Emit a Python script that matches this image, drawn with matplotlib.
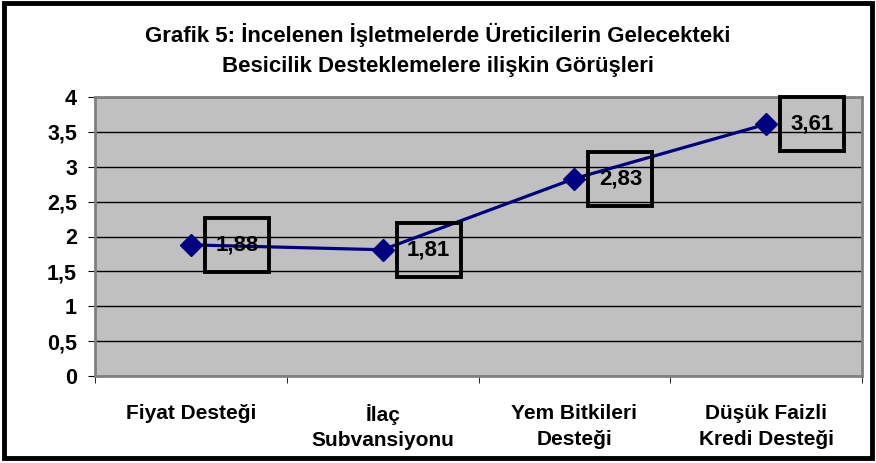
import matplotlib.pyplot as plt
import matplotlib.patches as patches
import numpy as np

categories = ["Fiyat Desteği", "İlaç\nSubvansiyonu", "Yem Bitkileri\nDesteği", "Düşük Faizli\nKredi Desteği"]
values = [1.88, 1.81, 2.83, 3.61]
value_labels = ["1,88", "1,81", "2,83", "3,61"]
yticks = [0, 0.5, 1, 1.5, 2, 2.5, 3, 3.5, 4]
ytick_labels = ["0", "0,5", "1", "1,5", "2", "2,5", "3", "3,5", "4"]
title = "Grafik 5: İncelenen İşletmelerde Üreticilerin Gelecekteki\nBesicilik Desteklemelere ilişkin Görüşleri"

plt.rcParams["font.family"] = ["Liberation Sans", "DejaVu Sans"]
plt.rcParams["font.weight"] = "bold"

W, H = 876, 463
fig = plt.figure(figsize=(W / 100, H / 100), dpi=100)
ax = fig.add_axes([95 / W, 1 - 376 / H, (862 - 95) / W, (376 - 97) / H])
ax.set_facecolor("#C0C0C0")
ax.set_xlim(-0.5, 3.5)
ax.set_ylim(0, 4)

# pixel -> data scale for the label boxes
px_x = 4 / (862 - 95)
px_y = 4 / (376 - 97)

x = np.arange(len(categories))
ax.plot(x, values, color="#000080", lw=2.3, marker="D", ms=11, zorder=3)
for xi, v, lab in zip(x, values, value_labels):
    cx = xi + 46 * px_x
    ax.add_patch(patches.Rectangle((cx - 32 * px_x, v - 27 * px_y), 64 * px_x, 54 * px_y,
                                   fill=False, ec="black", lw=2.8, zorder=4, clip_on=False))
    ax.text(cx, v, lab, ha="center", va="center", fontsize=16, fontweight="bold", zorder=5)

ax.set_yticks(yticks)
ax.set_yticklabels(ytick_labels, fontsize=15.5, fontweight="bold")
ax.yaxis.grid(True, color="black", lw=1)
ax.set_axisbelow(True)
ax.set_xticks(x)
ax.set_xticklabels(categories, fontsize=15, fontweight="bold", linespacing=1.45)
ax.set_xticks(np.arange(-0.5, 4, 1), minor=True)
ax.tick_params(axis="x", which="major", length=0, pad=20)
ax.tick_params(axis="x", which="minor", length=5, color="black")
ax.tick_params(axis="y", length=5, color="black", pad=8)
for s in ax.spines.values():
    s.set_color("#808080")
    s.set_linewidth(2)

fig.text(0.5, 1 - 50 / H, title, ha="center", va="center", fontsize=16, fontweight="bold", linespacing=1.55)

fig.add_artist(patches.Rectangle((4 / W, 5 / H), 868 / W, 455 / H, transform=fig.transFigure,
                                 fill=False, ec="black", lw=3.5))

fig.savefig("out.png", dpi=100)
